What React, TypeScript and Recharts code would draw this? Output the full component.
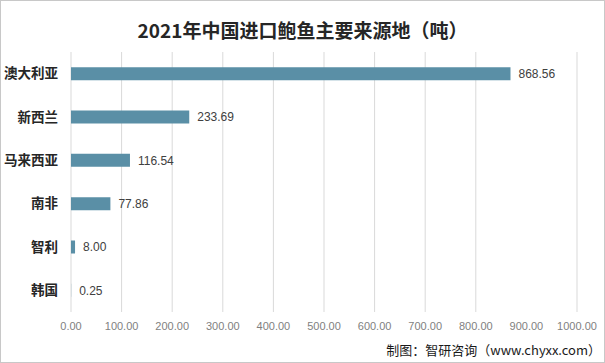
import { BarChart, Bar, XAxis, YAxis, CartesianGrid, LabelList } from 'recharts'

const countries = ['澳大利亚', '新西兰', '马来西亚', '南非', '智利', '韩国']
const tonnes = [868.56, 233.69, 116.54, 77.86, 8.0, 0.25]
const xTicks = [0, 100, 200, 300, 400, 500, 600, 700, 800, 900, 1000]

const data = countries.map((name, i) => ({ name, value: tonnes[i] }))

const CJK = '"Noto Sans CJK SC", "Noto Sans", sans-serif'

export default function App() {
  return (
    <div
      style={{
        position: 'absolute',
        left: 0,
        top: 0,
        width: 605,
        height: 363,
        boxSizing: 'border-box',
        border: '1px solid #c8c8c8',
        background: '#fff',
        fontFamily: CJK,
      }}
    >
      <div
        style={{
          position: 'absolute',
          top: 16,
          left: 0,
          width: 603,
          textAlign: 'center',
          fontSize: 19,
          fontWeight: 'bold',
          color: '#262626',
          lineHeight: '26px',
        }}
      >
        2021年中国进口鲍鱼主要来源地（吨）
      </div>
      <div style={{ position: 'absolute', left: -1, top: -1 }}>
        <BarChart
          width={605}
          height={363}
          data={data}
          layout="vertical"
          margin={{ top: 52, right: 28, bottom: 0, left: 1 }}
          barCategoryGap="65%"
        >
          <CartesianGrid horizontal={false} stroke="#d9d9d9" />
          <XAxis
            type="number"
            domain={[0, 1000]}
            ticks={xTicks}
            tickFormatter={(v: number) => v.toFixed(2)}
            axisLine={false}
            tickLine={false}
            height={51}
            tickMargin={4}
            tick={{ fill: '#7f7f7f', fontSize: 11, fontFamily: 'Liberation Sans, sans-serif' }}
          />
          <YAxis
            type="category"
            dataKey="name"
            width={70}
            axisLine={false}
            tickLine={false}
            tickSize={0}
            tickMargin={13}
            tick={{ fill: '#262626', fontSize: 13.5, fontWeight: 'bold', fontFamily: CJK }}
          />
          <Bar dataKey="value" fill="#5a8fa6" isAnimationActive={false}>
            <LabelList
              dataKey="value"
              position="right"
              offset={8}
              formatter={(v: number) => v.toFixed(2)}
              style={{ fill: '#404040', fontSize: 12, fontFamily: 'Liberation Sans, sans-serif' }}
            />
          </Bar>
        </BarChart>
      </div>
      <div
        style={{
          position: 'absolute',
          right: 3,
          top: 339,
          fontSize: 13,
          color: '#1a1a1a',
          lineHeight: '20px',
          whiteSpace: 'nowrap',
        }}
      >
        制图：智研咨询（www.chyxx.com）
      </div>
    </div>
  )
}
